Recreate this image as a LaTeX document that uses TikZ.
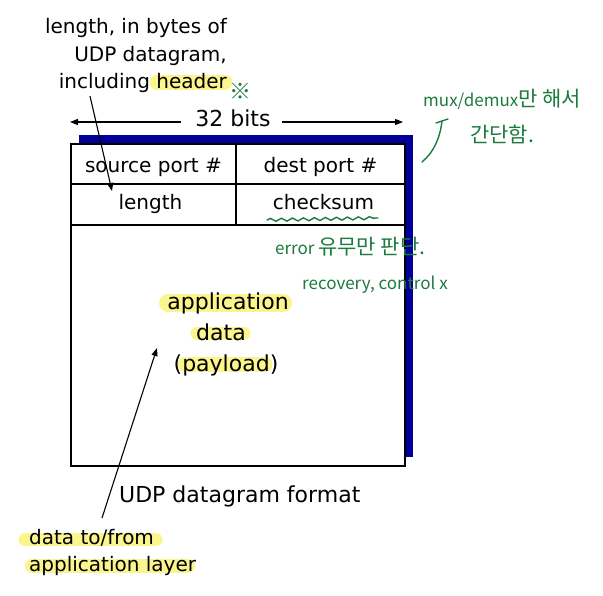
\documentclass[tikz,border=0pt]{standalone}
\usepackage{fontspec}
\setmainfont{DejaVu Sans}
\newfontfamily\krfont{Noto Sans CJK KR}
\usetikzlibrary{arrows.meta,decorations.pathmorphing}
\definecolor{navy}{RGB}{0,0,153}
\definecolor{pen}{RGB}{28,122,62}
\definecolor{hl}{RGB}{250,245,140}
\newcommand{\krbig}{\fontsize{21}{24}\selectfont}
\begin{document}
\begin{tikzpicture}[x=1pt,y=-1pt,
  lbl/.style={font=\fontsize{20}{24}\selectfont, inner sep=0pt},
  big/.style={font=\fontsize{22}{26}\selectfont, inner sep=0pt},
  hand/.style={text=pen, font=\krfont\fontsize{17}{20}\selectfont, inner sep=0pt},
  hilite/.style={draw=hl, line width=#1, line cap=round},
  arr/.style={-{Triangle[length=8pt,width=6pt]}, line width=1.1pt},
  penline/.style={draw=pen, line width=1.4pt, line cap=round}
]
\useasboundingbox (0,0) rectangle (603,596);

% highlights outside the box
\draw[hilite=15pt] (157,82.5) -- (225,82.5);
\draw[hilite=13pt] (25,539.5) -- (156,539.5);
\draw[hilite=14pt] (32,566) -- (188,566);

% datagram box
\fill[navy] (79,135) rectangle (413,457);
\draw[fill=white, line width=2pt] (71,144) rectangle (405,466);
\draw[line width=2pt] (236,144) -- (236,225);
\draw[line width=2pt] (71,184) -- (405,184);
\draw[line width=2pt] (71,225) -- (405,225);

% highlights inside the box
\draw[hilite=18pt] (168,303) -- (283,303);
\draw[hilite=13pt] (197,333.5) -- (244,333.5);
\draw[hilite=15pt] (185,364.5) -- (265,364.5);

% top label
\node[lbl, anchor=base east] (t1) at (227,34) {length, in bytes of};
\node[lbl, anchor=base east] (t2) at (227,62) {UDP datagram,};
\node[lbl, anchor=base east] (t3) at (227,89) {including header};

% 32 bits
\node[big, anchor=base] (bits) at (233,127) {32 bits};
\coordinate (bl) at (70,122);
\coordinate (br) at (403,122);
\coordinate (bitsl) at (181,122);
\coordinate (bitsr) at (282,122);
\draw[arr] (bitsl) -- (bl);
\draw[arr] (bitsr) -- (br);

% cell texts
\node[lbl, anchor=base] (src) at (153.5,173) {source port \#};
\node[lbl, anchor=base] (dst) at (320.5,173) {dest port \#};
\node[lbl, anchor=base] (len) at (150.5,210) {length};
\node[lbl, anchor=base] (chk) at (323.5,210) {checksum};

% application data
\node[big, anchor=base] (app1) at (228,310) {application};
\node[big, anchor=base] (app2) at (221,341) {data};
\node[big, anchor=base] (app3) at (226,371) {(payload)};

% caption
\node[big, anchor=base west] (cap) at (119,502) {UDP datagram format};

% bottom label
\node[lbl, anchor=base west] (b1) at (29,544) {data to/from};
\node[lbl, anchor=base west] (b2) at (29,571) {application layer};

% arrows
\coordinate (lentail) at (90,96);
\coordinate (lentip) at (112,191);
\draw[arr] (lentail) -- (lentip);
\coordinate (apptail) at (102,518);
\coordinate (apptip) at (157,348);
\draw[arr] (apptail) -- (apptip);

% handwritten notes
\node[text=pen, font=\krfont\fontsize{22}{24}\selectfont, inner sep=0pt] (star) at (240,91) {※};
\node[hand, anchor=base west] (n1) at (423,107) {mux/demux{\krbig 만 해서}};
\node[hand, anchor=base west, font=\krfont\krbig] (n2) at (470,143) {간단함.};
\coordinate (upa) at (422,162);
\coordinate (upb) at (442,121);
\draw[penline] (upa) .. controls (434,152) and (440,138) .. (upb);
\coordinate (upc) at (436,123);
\coordinate (upd) at (448,119);
\draw[penline] (upc) -- (upd);
\coordinate (wv1) at (267,220);
\coordinate (wv2) at (378,218);
\draw[penline, decorate, decoration={snake, amplitude=1.5pt, segment length=11pt}] (wv1) -- (wv2);
\node[hand, anchor=base west] (n3) at (275,255) {error {\krbig 유무만 판단.}};
\node[hand, anchor=base west] (n4) at (302,290) {recovery, control x};
\end{tikzpicture}
\end{document}
